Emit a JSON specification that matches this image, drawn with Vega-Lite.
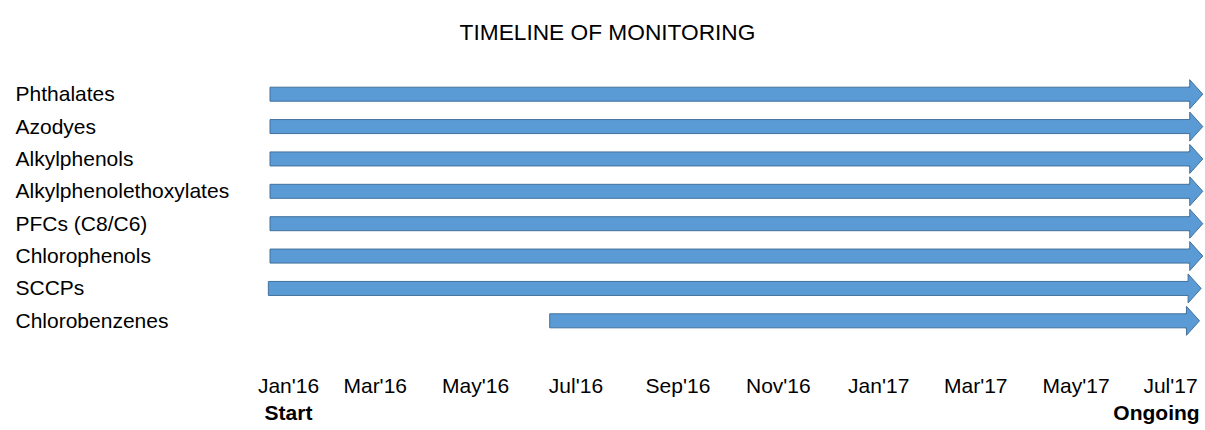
{
  "$schema": "https://vega.github.io/schema/vega-lite/v6.json",
  "autosize": {"type": "none"},
  "width": 935,
  "height": 259,
  "padding": {"left": 270, "top": 78, "right": 0, "bottom": 93},
  "background": "white",
  "title": {
    "text": "TIMELINE OF MONITORING",
    "font": "Liberation Sans",
    "fontSize": 22.7,
    "fontWeight": "normal",
    "color": "black",
    "anchor": "middle",
    "frame": "group",
    "dx": -130,
    "offset": 33
  },
  "config": {
    "view": {"stroke": null},
    "axis": {"labelFont": "Liberation Sans", "labelColor": "black", "grid": false, "domain": false, "ticks": false, "tickSize": 0, "title": null}
  },
  "data": {
    "values": [
      {"substance": "Phthalates", "start": "2016-01-01", "end": "2017-07-13"},
      {"substance": "Azodyes", "start": "2016-01-01", "end": "2017-07-13"},
      {"substance": "Alkylphenols", "start": "2016-01-01", "end": "2017-07-13"},
      {"substance": "Alkylphenolethoxylates", "start": "2016-01-01", "end": "2017-07-13"},
      {"substance": "PFCs (C8/C6)", "start": "2016-01-01", "end": "2017-07-13"},
      {"substance": "Chlorophenols", "start": "2016-01-01", "end": "2017-07-13"},
      {"substance": "SCCPs", "start": "2015-12-31", "end": "2017-07-12"},
      {"substance": "Chlorobenzenes", "start": "2016-06-19", "end": "2017-07-11"}
    ]
  },
  "encoding": {
    "y": {
      "field": "substance",
      "type": "nominal",
      "sort": ["Phthalates", "Azodyes", "Alkylphenols", "Alkylphenolethoxylates", "PFCs (C8/C6)", "Chlorophenols", "SCCPs", "Chlorobenzenes"],
      "scale": {"paddingInner": 0, "paddingOuter": 0},
      "axis": {"orient": "left", "labelAlign": "left", "labelPadding": 255, "labelFontSize": 21, "labelBaseline": "middle", "labelOffset": 1, "labelLimit": 0}
    }
  },
  "layer": [
    {
      "mark": {"type": "bar", "height": 14, "fill": "#5B9BD5", "stroke": "#41719C", "strokeWidth": 1, "cornerRadius": 0},
      "encoding": {
        "x": {
          "field": "start",
          "type": "temporal",
          "scale": {
            "type": "utc",
            "domain": [
              {"year": 2016, "month": 1, "date": 1, "utc": true},
              {"year": 2017, "month": 7, "date": 22, "hours": 6, "minutes": 30, "utc": true}
            ]
          },
          "axis": {
            "orient": "bottom",
            "values": [
              {"year": 2016, "month": 1, "date": 1, "utc": true},
              {"year": 2016, "month": 3, "date": 1, "utc": true},
              {"year": 2016, "month": 5, "date": 1, "utc": true},
              {"year": 2016, "month": 7, "date": 1, "utc": true},
              {"year": 2016, "month": 9, "date": 1, "utc": true},
              {"year": 2016, "month": 11, "date": 1, "utc": true},
              {"year": 2017, "month": 1, "date": 1, "utc": true},
              {"year": 2017, "month": 3, "date": 1, "utc": true},
              {"year": 2017, "month": 5, "date": 1, "utc": true},
              {"year": 2017, "month": 7, "date": 1, "utc": true}
            ],
            "format": "%b'%y",
            "labelFontSize": 21,
            "labelBaseline": "alphabetic",
            "labelPadding": 55,
            "labelFlush": false,
            "labelOverlap": false,
            "labelOffset": {
              "condition": [
                {"test": "utcyear(datum.value) == 2016 && utcmonth(datum.value) == 0", "value": 18},
                {"test": "utcyear(datum.value) == 2017 && utcmonth(datum.value) == 6", "value": 0}
              ],
              "value": 6
            }
          }
        },
        "x2": {"field": "end"}
      }
    },
    {
      "mark": {
        "type": "point",
        "shape": "M -0.1 -0.483 L 0 -0.483 L 0 -1 L 0.9 0 L 0 1 L 0 0.483 L -0.1 0.483",
        "size": 841,
        "filled": true,
        "fill": "#5B9BD5",
        "stroke": "#41719C",
        "strokeWidth": 1,
        "opacity": 1
      },
      "encoding": {
        "x": {
          "field": "end",
          "type": "temporal",
          "axis": {
            "orient": "bottom",
            "values": [
              {"year": 2016, "month": 1, "date": 1, "utc": true},
              {"year": 2017, "month": 7, "date": 1, "utc": true}
            ],
            "labelExpr": "utcyear(datum.value) == 2016 ? 'Start' : 'Ongoing'",
            "labelFontSize": 21,
            "labelFontWeight": "bold",
            "labelBaseline": "alphabetic",
            "labelPadding": 82,
            "labelFlush": false,
            "labelOverlap": false,
            "labelOffset": {
              "condition": {"test": "utcyear(datum.value) == 2016", "value": 18},
              "value": -14
            }
          }
        }
      }
    }
  ],
  "resolve": {"axis": {"x": "independent"}}
}
